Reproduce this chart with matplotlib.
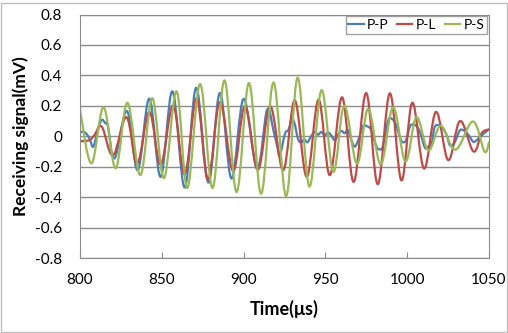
import numpy as np
import matplotlib
matplotlib.use("Agg")
import matplotlib.pyplot as plt
from matplotlib.path import Path
from matplotlib.patches import PathPatch, Rectangle
from matplotlib.lines import Line2D

plt.rcParams['font.family'] = ['Lato', 'DejaVu Sans']

# peaks, troughs and a few in-between points (time in us, signal in mV)
pp_time = [800, 802, 804, 806, 808, 810, 813, 815.5, 817, 821.2, 828.7, 835.3, 842.4, 849.3,
           856.5, 864.0, 871.0, 878.5, 885.5, 892.6, 900.0, 908.2, 914.3, 918.2, 920.6, 922.2,
           925.3, 927.3, 929.3, 931, 933.3, 935.3, 937, 939, 941, 943.4, 945.5, 947.5, 949.6,
           951.6, 953.6, 955.7, 957.7, 959.8, 961.8, 963.8, 966, 968, 970.3, 973, 975.5, 978,
           981.3, 983.5, 985, 988.3, 990.5, 993, 996, 997.8, 999.5, 1002, 1005.5, 1008, 1010.8,
           1012.5, 1015, 1017, 1021, 1024, 1026.2, 1029, 1032.3, 1035.5, 1038, 1040.5, 1043,
           1046.5, 1050]
pp_signal = [0.025, 0.03, 0.015, -0.02, -0.07, 0.0, 0.105, 0.085, 0.07, -0.145, 0.166, -0.223,
             0.247, -0.267, 0.295, -0.337, 0.318, -0.305, 0.284, -0.278, 0.245, -0.212, 0.172,
             0.04, -0.07, -0.125, 0.017, 0.04, 0.1, 0.09, -0.02, -0.04, -0.02, -0.04, -0.005,
             0.028, 0.01, 0.028, 0.005, 0.025, 0.005, -0.026, 0.01, 0.035, 0.02, 0.04, -0.03,
             -0.068, -0.02, 0.066, 0.065, 0.04, -0.07, -0.085, -0.07, 0.1, 0.115, 0.08, -0.02,
             -0.04, -0.02, 0.07, 0.068, 0.02, -0.075, -0.07, -0.045, 0.065, 0.06, 0.01, -0.06,
             -0.04, 0.04, 0.03, 0.0, -0.037, -0.02, 0.015, 0.045]

pl_time = [800, 805.7, 808.8, 813.3, 820.2, 828.4, 835.0, 842.4, 849.3, 857.0, 864.0, 871.3,
           878.2, 885.5, 893.6, 900.8, 908.7, 916.3, 924.2, 931.3, 938.6, 945.8, 952.7, 960.2,
           967.3, 974.9, 982.0, 989.4, 996.5, 1003.1, 1010.3, 1017.6, 1025.1, 1032.3, 1040.5,
           1045.5, 1050]
pl_signal = [-0.033, -0.026, 0.007, 0.063, -0.125, 0.125, -0.178, 0.16, -0.186, 0.203, -0.25,
             0.25, -0.285, 0.225, -0.228, 0.198, -0.22, 0.197, -0.223, 0.236, -0.267, 0.24,
             -0.256, 0.256, -0.3, 0.284, -0.315, 0.282, -0.29, 0.22, -0.212, 0.16, -0.157, 0.1,
             -0.1, 0.02, 0.045]

ps_time = [800, 807.0, 814.4, 821.8, 829.0, 836.9, 844.2, 851.3, 859.0, 865.6, 873.4, 881.0,
           888.3, 895.7, 903.3, 910.7, 918.3, 926.0, 933.0, 940.2, 947.6, 954.8, 961.5, 969.3,
           976.2, 983.8, 991.4, 998.9, 1005.6, 1012.9, 1020.5, 1029.5, 1040.2, 1047.2, 1050]
ps_signal = [0.175, -0.178, 0.19, -0.21, 0.22, -0.255, 0.25, -0.275, 0.295, -0.34, 0.343, -0.34,
             0.367, -0.367, 0.35, -0.378, 0.353, -0.393, 0.385, -0.33, 0.303, -0.234, 0.2, -0.18,
             0.18, -0.185, 0.19, -0.165, 0.125, -0.092, 0.068, -0.088, 0.097, -0.1, -0.04]

series_names = ['P-P', 'P-L', 'P-S']
series_colors = ['#4A7EBB', '#BE4B48', '#98B954']

x_ticks = [800, 850, 900, 950, 1000, 1050]
y_ticks = [-0.8, -0.6, -0.4, -0.2, 0, 0.2, 0.4, 0.6, 0.8]
y_tick_labels = ['-0.8', '-0.6', '-0.4', '-0.2', '0', '0.2', '0.4', '0.6', '0.8']


def smooth_line(t, v, k=0.18):
    # Excel style smoothed line: cubic bezier through the read points
    pts = np.column_stack([t, v]).astype(float)
    n = len(pts)
    verts = [pts[0]]
    codes = [Path.MOVETO]
    for i in range(n - 1):
        p0 = pts[i - 1] if i > 0 else pts[i]
        p1 = pts[i]
        p2 = pts[i + 1]
        p3 = pts[i + 2] if i + 2 < n else pts[i + 1]
        verts += [p1 + (p2 - p0) * k, p2 - (p3 - p1) * k, p2]
        codes += [Path.CURVE4] * 3
    return Path(verts, codes)


def main():
    fig = plt.figure(figsize=(5.08, 3.33), dpi=100)
    ax = fig.add_axes([80 / 508, 1 - 258 / 333, 409 / 508, 243.5 / 333])

    data = [(pp_time, pp_signal), (pl_time, pl_signal), (ps_time, ps_signal)]
    handles = []
    for (t, v), name, color in zip(data, series_names, series_colors):
        ax.add_patch(PathPatch(smooth_line(t, v), fill=False, edgecolor=color,
                               lw=1.6, capstyle='round', joinstyle='round'))
        handles.append(Line2D([], [], color=color, lw=1.6, label=name))

    ax.set_xlim(800, 1050)
    ax.set_ylim(-0.8, 0.8)
    ax.set_xticks(x_ticks)
    ax.set_yticks(y_ticks)
    ax.set_yticklabels(y_tick_labels)
    ax.grid(axis='y', color='#8c8c8c', lw=1)
    ax.set_axisbelow(True)
    for s in ax.spines.values():
        s.set_color('#8c8c8c')
    ax.tick_params(axis='x', direction='in', length=4, color='#8c8c8c', labelsize=11, pad=11)
    ax.tick_params(axis='y', length=0, labelsize=11, pad=13)

    ax.set_xlabel('Time(μs)', fontsize=13, fontweight='bold', labelpad=9)
    ax.set_ylabel('Receiving signal(mV)', fontsize=12.5, fontweight='bold', labelpad=4)

    ax.legend(handles=handles, loc='upper right', bbox_to_anchor=(0.995, 0.993), ncol=3,
              fontsize=10, frameon=True, fancybox=False, edgecolor='#8c8c8c',
              handlelength=1.1, handletextpad=0.25, columnspacing=0.6, borderpad=0.2,
              borderaxespad=0)

    fig.patches.append(Rectangle((0.002, 0.004), 0.996, 0.986, transform=fig.transFigure,
                                 fill=False, edgecolor='#bfbfbf', lw=1))

    fig.savefig('out.png', dpi=100)


if __name__ == "__main__":
    main()
